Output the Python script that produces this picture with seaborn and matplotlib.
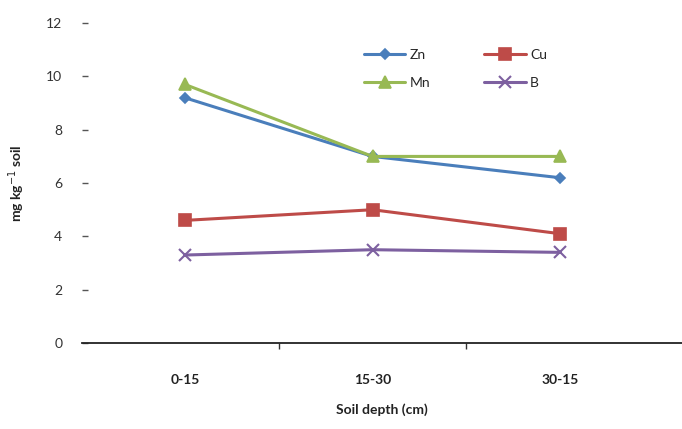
import matplotlib
matplotlib.use("Agg")
import matplotlib.pyplot as plt
from matplotlib.ticker import FixedLocator
import seaborn as sns
import pandas as pd

# Micronutrient content by soil depth
depths = ["0-15", "15-30", "30-15"]
zn = [9.2, 7.0, 6.2]
cu = [4.6, 5.0, 4.1]
mn = [9.7, 7.0, 7.0]
b = [3.3, 3.5, 3.4]

series_names = ["Zn", "Cu", "Mn", "B"]
series_values = [zn, cu, mn, b]
colors = {"Zn": "#4a7ebb", "Cu": "#be4b48", "Mn": "#98b954", "B": "#7d60a0"}
markers = {"Zn": "D", "Cu": "s", "Mn": "^", "B": "x"}
msizes = {"Zn": 5.5, "Cu": 9, "Mn": 9, "B": 8}

df = pd.DataFrame(
    [(d, name, v) for name, vals in zip(series_names, series_values) for d, v in zip(depths, vals)],
    columns=["depth", "element", "value"],
)

sns.set_theme(style="white")
plt.rcParams["font.family"] = ["Lato", "DejaVu Sans"]

fig = plt.figure(figsize=(6.82, 4.29), dpi=100)
ax = fig.add_axes([0.120, 0.2005, 0.88, 0.7455])

handles = {}
for name in series_names:
    sub = df[df["element"] == name]
    sns.lineplot(
        data=sub, x="depth", y="value", ax=ax, color=colors[name],
        marker=markers[name], markersize=msizes[name], linewidth=2.2,
        markeredgecolor=colors[name], markeredgewidth=1.2 if name != "B" else 1.5,
        sort=False, label=name,
    )
    handles[name] = ax.get_lines()[-1]

ax.set_xlim(-0.55, 2.65)
ax.set_ylim(0, 12)
ax.set_yticks([0, 2, 4, 6, 8, 10, 12])
ax.set_xticks(range(len(depths)))
ax.set_xticklabels(depths)
ax.xaxis.set_minor_locator(FixedLocator([0.5, 1.5]))

for side in ["left", "top", "right"]:
    ax.spines[side].set_visible(False)
ax.spines["bottom"].set_color("#222222")
ax.spines["bottom"].set_linewidth(1.3)

ax.tick_params(axis="x", which="major", length=0, pad=22, labelsize=10, labelcolor="#222222")
ax.tick_params(axis="x", which="minor", bottom=True, length=4, width=1, color="#333333", direction="out")
ax.tick_params(axis="y", which="major", left=True, length=4, width=1, color="#555555", direction="in",
               pad=14, labelsize=10, labelcolor="#333333")
for lab in ax.get_xticklabels():
    lab.set_fontweight("bold")

ax.set_xlabel("Soil depth (cm)", fontsize=10, fontweight="bold", color="#222222", labelpad=13)
ax.set_ylabel("mg kg$^{-1}$ soil", fontsize=10, fontweight="bold", color="#222222", labelpad=14)

order = ["Zn", "Mn", "Cu", "B"]
leg = ax.legend(
    [handles[n] for n in order], order, ncol=2, frameon=False,
    loc="upper left", bbox_to_anchor=(0.515, 0.915), bbox_transform=fig.transFigure,
    fontsize=10, handlelength=3.0, columnspacing=3.9, labelspacing=1.15, handletextpad=0.3,
)

fig.savefig("out.png", dpi=100, facecolor="white")
